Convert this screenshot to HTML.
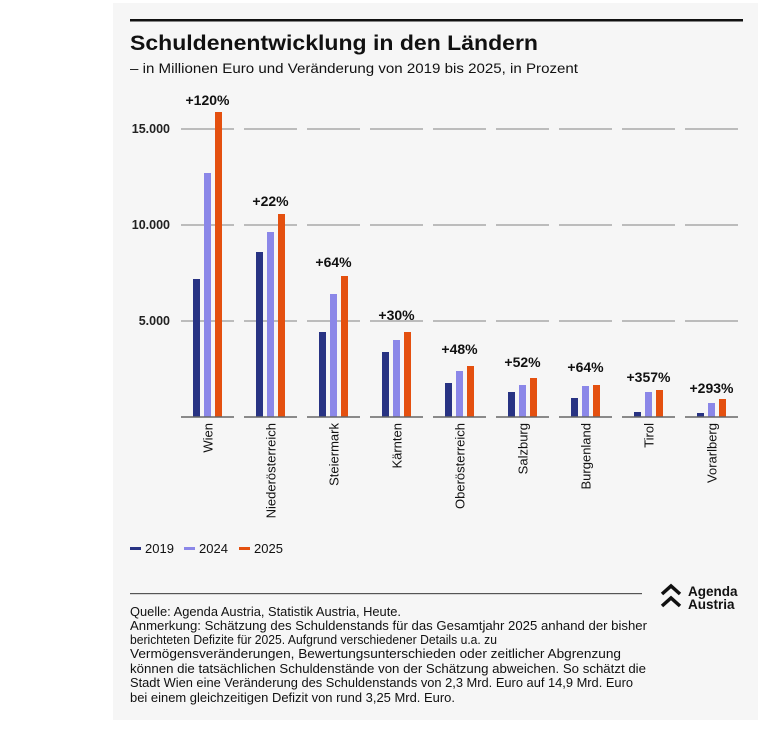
<!DOCTYPE html>
<html><head><meta charset="utf-8"><style>
body{margin:0;background:#fff;width:768px;height:732px;overflow:hidden}
svg{display:block;font-family:"Liberation Sans",sans-serif}
</style></head><body>
<svg width="768" height="732" viewBox="0 0 768 732">
<rect x="113" y="3" width="645" height="717" fill="#f6f6f6"/>
<rect x="130" y="19" width="613" height="2.5" fill="#111"/>
<text x="130" y="50" font-size="21" font-weight="bold" fill="#111" textLength="408" lengthAdjust="spacingAndGlyphs">Schuldenentwicklung in den Ländern</text>
<text x="130" y="73" font-size="13.5" fill="#111" textLength="448" lengthAdjust="spacingAndGlyphs">– in Millionen Euro und Veränderung von 2019 bis 2025, in Prozent</text>
<g font-size="12.5" font-weight="600" fill="#222" text-anchor="end">
<text x="170" y="133">15.000</text><text x="170" y="229">10.000</text><text x="170" y="325">5.000</text>
</g>
<g stroke="#999" stroke-width="1.2">
<path d="M181 129h53M244 129h53M307 129h53M370 129h53M433 129h53M496 129h53M559 129h53M622 129h53M685 129h53"/>
<path d="M181 225h53M244 225h53M307 225h53M370 225h53M433 225h53M496 225h53M559 225h53M622 225h53M685 225h53"/>
<path d="M181 321h53M244 321h53M307 321h53M370 321h53M433 321h53M496 321h53M559 321h53M622 321h53M685 321h53"/>
</g>
<g>
<rect x="193" y="279" width="7" height="138" fill="#283383"/><rect x="204" y="173" width="7" height="244" fill="#8b87e8"/><rect x="215" y="112" width="7" height="305" fill="#e4500f"/>
<rect x="256" y="252" width="7" height="165" fill="#283383"/><rect x="267" y="232" width="7" height="185" fill="#8b87e8"/><rect x="278" y="214" width="7" height="203" fill="#e4500f"/>
<rect x="319" y="332" width="7" height="85" fill="#283383"/><rect x="330" y="294" width="7" height="123" fill="#8b87e8"/><rect x="341" y="276" width="7" height="141" fill="#e4500f"/>
<rect x="382" y="352" width="7" height="65" fill="#283383"/><rect x="393" y="340" width="7" height="77" fill="#8b87e8"/><rect x="404" y="332" width="7" height="85" fill="#e4500f"/>
<rect x="445" y="383" width="7" height="34" fill="#283383"/><rect x="456" y="371" width="7" height="46" fill="#8b87e8"/><rect x="467" y="366" width="7" height="51" fill="#e4500f"/>
<rect x="508" y="392" width="7" height="25" fill="#283383"/><rect x="519" y="385" width="7" height="32" fill="#8b87e8"/><rect x="530" y="378" width="7" height="39" fill="#e4500f"/>
<rect x="571" y="398" width="7" height="19" fill="#283383"/><rect x="582" y="386" width="7" height="31" fill="#8b87e8"/><rect x="593" y="385" width="7" height="32" fill="#e4500f"/>
<rect x="634" y="412" width="7" height="5" fill="#283383"/><rect x="645" y="392" width="7" height="25" fill="#8b87e8"/><rect x="656" y="390" width="7" height="27" fill="#e4500f"/>
<rect x="697" y="413" width="7" height="4" fill="#283383"/><rect x="708" y="403" width="7" height="14" fill="#8b87e8"/><rect x="719" y="399" width="7" height="18" fill="#e4500f"/>
</g>
<path d="M181 417h53M244 417h53M307 417h53M370 417h53M433 417h53M496 417h53M559 417h53M622 417h53M685 417h53" stroke="#666" stroke-width="1.6"/>
<g font-size="14" font-weight="600" fill="#111" text-anchor="middle">
<text x="207.5" y="105">+120%</text>
<text x="270.5" y="206">+22%</text>
<text x="333.5" y="267">+64%</text>
<text x="396.5" y="320">+30%</text>
<text x="459.5" y="354">+48%</text>
<text x="522.5" y="367">+52%</text>
<text x="585.5" y="372">+64%</text>
<text x="648.5" y="382">+357%</text>
<text x="711.5" y="393">+293%</text>
</g>
<g font-size="13" font-weight="500" fill="#111" text-anchor="end">
<text transform="translate(212.5,423) rotate(-90)">Wien</text>
<text transform="translate(275.5,423) rotate(-90)">Niederösterreich</text>
<text transform="translate(338.5,423) rotate(-90)">Steiermark</text>
<text transform="translate(401.5,423) rotate(-90)">Kärnten</text>
<text transform="translate(464.5,423) rotate(-90)">Oberösterreich</text>
<text transform="translate(527.5,423) rotate(-90)">Salzburg</text>
<text transform="translate(590.5,423) rotate(-90)">Burgenland</text>
<text transform="translate(653.5,423) rotate(-90)">Tirol</text>
<text transform="translate(716.5,423) rotate(-90)">Vorarlberg</text>
</g>
<g font-size="13" fill="#111">
<rect x="130" y="547" width="11" height="3" fill="#283383"/><text x="145" y="553">2019</text>
<rect x="184" y="547" width="11" height="3" fill="#8b87e8"/><text x="199" y="553">2024</text>
<rect x="239" y="547" width="11" height="3" fill="#e4500f"/><text x="254" y="553">2025</text>
</g>
<rect x="130" y="593" width="512" height="1.2" fill="#555"/>
<path d="M662 594l9-8 9 8M662 606l9-8 9 8" stroke="#111" stroke-width="3.5" fill="none"/>
<g font-size="13.5" font-weight="bold" fill="#111"><text x="688" y="596">Agenda</text><text x="688" y="609">Austria</text></g>
<g font-size="12.5" fill="#111">
<text x="130" y="616" textLength="271" lengthAdjust="spacingAndGlyphs">Quelle: Agenda Austria, Statistik Austria, Heute.</text>
<text x="130" y="630" textLength="517" lengthAdjust="spacingAndGlyphs">Anmerkung: Schätzung des Schuldenstands für das Gesamtjahr 2025 anhand der bisher</text>
<text x="130" y="644" textLength="367" lengthAdjust="spacingAndGlyphs">berichteten Defizite für 2025. Aufgrund verschiedener Details u.a. zu</text>
<text x="130" y="658" textLength="491" lengthAdjust="spacingAndGlyphs">Vermögensveränderungen, Bewertungsunterschieden oder zeitlicher Abgrenzung</text>
<text x="130" y="673" textLength="516" lengthAdjust="spacingAndGlyphs">können die tatsächlichen Schuldenstände von der Schätzung abweichen. So schätzt die</text>
<text x="130" y="687" textLength="503" lengthAdjust="spacingAndGlyphs">Stadt Wien eine Veränderung des Schuldenstands von 2,3 Mrd. Euro auf 14,9 Mrd. Euro</text>
<text x="130" y="702" textLength="325" lengthAdjust="spacingAndGlyphs">bei einem gleichzeitigen Defizit von rund 3,25 Mrd. Euro.</text>
</g>
</svg>
</body></html>
